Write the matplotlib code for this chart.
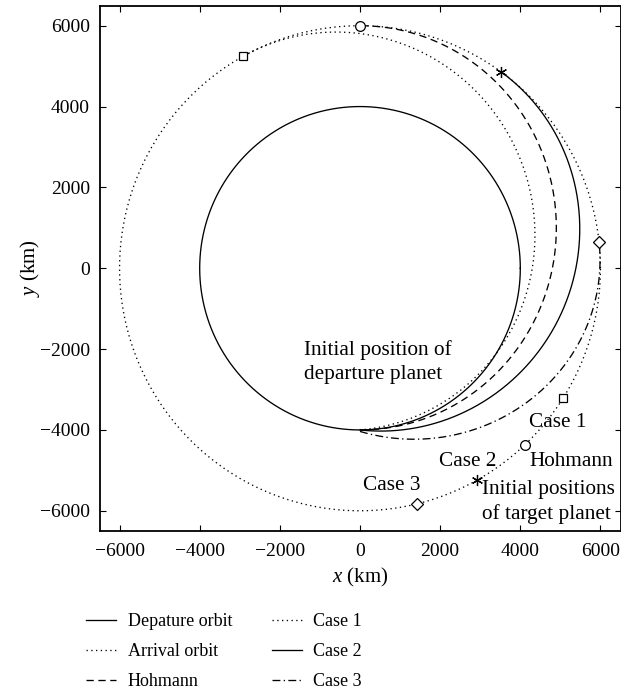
import numpy as np
import matplotlib
matplotlib.use('Agg')
import matplotlib.pyplot as plt

plt.rcParams['font.family'] = 'Liberation Serif'
plt.rcParams['mathtext.fontset'] = 'custom'
plt.rcParams['mathtext.it'] = 'Liberation Serif:italic'
plt.rcParams['mathtext.rm'] = 'Liberation Serif'

# orbit radii (km)
r_dep = 4000
r_arr = 6000

# transfer arcs (conic about the origin): angles in degrees
transfer_names = ['Hohmann', 'Case 1', 'Case 2', 'Case 3']
theta_start = [-90, -90, -90, -90]
theta_end = [90, 119, 54, 6.2]
ecc = [0.2, 0.2106, 0.2165, 0.305]
apo_dir = [90, 119, 54, 6.2]

# target planet: initial and arrival positions on arrival orbit (deg)
target_init = [-46.8, -32.4, -61.0, -76.4]
target_arrive = [90, 119, 54, 6.2]

dot = (0, (1, 2.6))
styles = {'Hohmann': (0, (5.5, 3.5)), 'Case 1': dot, 'Case 2': '-',
          'Case 3': (0, (6, 2.5, 1, 2.5))}
marks = {'Hohmann': 'o', 'Case 1': 's', 'Case 2': (6, 2, 0), 'Case 3': 'D'}
msize = {'Hohmann': 7, 'Case 1': 6, 'Case 2': 8, 'Case 3': 6}

fig = plt.figure(figsize=(6.21, 6.90), dpi=100)
ax = fig.add_axes([99.5 / 621, 159 / 690, 521 / 621, 525.5 / 690])

t = np.linspace(0, 2 * np.pi, 721)
ax.plot(r_dep * np.cos(t), r_dep * np.sin(t), color='k', lw=0.95, label='Depature orbit')
ax.plot(r_arr * np.cos(t), r_arr * np.sin(t), color='k', lw=0.95, ls=dot, label='Arrival orbit')

for i, name in enumerate(transfer_names):
    th = np.radians(np.linspace(theta_start[i], theta_end[i], 400))
    w = np.radians(apo_dir[i] - 180)
    p = r_arr * (1 - ecc[i])
    r = p / (1 + ecc[i] * np.cos(th - w))
    ax.plot(r * np.cos(th), r * np.sin(th), color='k', lw=0.95, ls=styles[name], label=name)

for i, name in enumerate(transfer_names):
    for ang in (target_init[i], target_arrive[i]):
        a = np.radians(ang)
        ax.plot(r_arr * np.cos(a), r_arr * np.sin(a), ls='none', marker=marks[name],
                ms=msize[name], mfc='white' if name != 'Case 2' else 'k', mec='k', mew=0.9)

fs = 15.3
ax.text(-1409, -2321, 'Initial position of\ndeparture planet', ha='left', va='center',
        fontsize=fs, linespacing=1.32)
ax.text(4930, -3815, 'Case 1', ha='center', va='center', fontsize=fs)
ax.text(4230, -4770, 'Hohmann', ha='left', va='center', fontsize=fs)
ax.text(2690, -4770, 'Case 2', ha='center', va='center', fontsize=fs)
ax.text(800, -5370, 'Case 3', ha='center', va='center', fontsize=fs)
ax.text(3040, -5786, 'Initial positions\nof target planet', ha='left', va='center',
        fontsize=fs, linespacing=1.32)

ax.set_xlim(-6500, 6500)
ax.set_ylim(-6500, 6500)
ax.set_xticks(np.arange(-6000, 6001, 2000))
ax.set_yticks(np.arange(-6000, 6001, 2000))
ax.tick_params(direction='in', top=True, right=True, length=4, width=0.8, labelsize=14)
ax.tick_params(axis='y', pad=7)
ax.tick_params(axis='x', pad=9)
ax.set_xticklabels([f'{v}'.replace('-', '\u2212') for v in range(-6000, 6001, 2000)])
ax.set_yticklabels([f'{v}'.replace('-', '\u2212') for v in range(-6000, 6001, 2000)])
for s in ax.spines.values():
    s.set_linewidth(1.3)
ax.set_xlabel('$x$ (km)', fontsize=15, labelpad=4)
ax.set_ylabel('$y$ (km)', fontsize=15, labelpad=-2)

h, l = ax.get_legend_handles_labels()
order = ['Depature orbit', 'Arrival orbit', 'Hohmann', 'Case 1', 'Case 2', 'Case 3']
hs = [h[l.index(o)] for o in order]
fig.legend(hs, order, loc='upper left', bbox_to_anchor=(86 / 621, 1 - 613 / 690), ncol=2,
           frameon=False, fontsize=13, handlelength=1.65, handletextpad=0.65,
           columnspacing=2.2, labelspacing=0.72, borderpad=0, borderaxespad=0)

fig.savefig('out.png', dpi=100)
